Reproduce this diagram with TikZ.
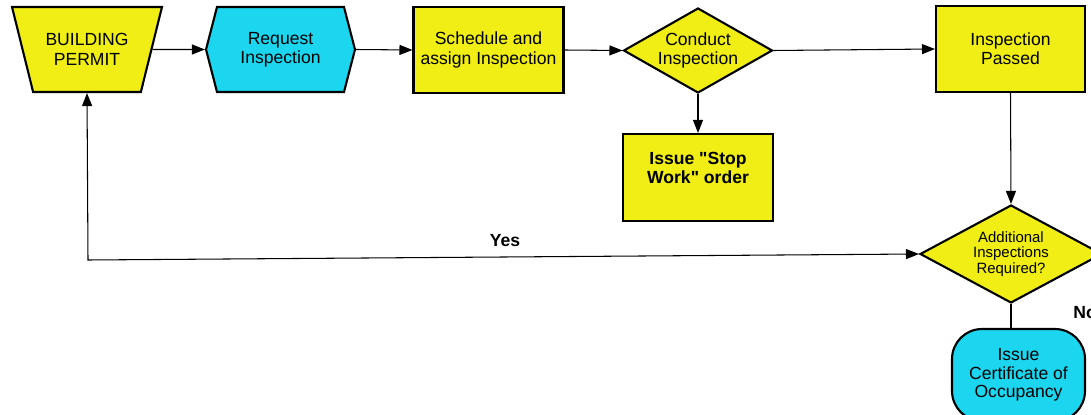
\documentclass[tikz,border=0pt]{standalone}
\usepackage{fontspec}
\setmainfont{Liberation Sans}
\usetikzlibrary{arrows.meta,shapes.geometric,shapes.symbols}

\definecolor{flowyellow}{RGB}{240,238,20}
\definecolor{flowcyan}{RGB}{28,214,240}

\tikzset{
    flowbox/.style={draw, line width=1.2pt, fill=flowyellow, align=center, font=\fontsize{10}{11}\selectfont},
    stepbox/.style={flowbox, rectangle, minimum width=3cm, minimum height=1.72cm},
    decision/.style={flowbox, diamond, inner sep=0pt},
    flowline/.style={line width=0.6pt, -{Triangle[length=0.26cm, width=0.2cm]}},
    plainline/.style={line width=0.6pt}
}

\begin{document}
\begin{tikzpicture}[x=0.02cm, y=-0.02cm]
    \path[use as bounding box, clip] (0,0) rectangle (1091,415);

    \node[flowbox, trapezium, trapezium angle=64, shape border rotate=180, trapezium stretches body=true, minimum width=3cm, minimum height=1.7cm] (permit) at (87,49.5) {BUILDING\\PERMIT};
    \node[flowbox, fill=flowcyan, signal, signal to=west and east, signal pointer angle=151, minimum width=2.98cm, minimum height=1.7cm] (request) at (280.5,49.5) {Request\\Inspection};
    \node[stepbox] (schedule) at (488.5,50) {Schedule and\\assign Inspection};
    \node[decision, aspect=1.75, minimum width=2.98cm, minimum height=1.7cm] (conduct) at (698,50.5) {Conduct\\Inspection};
    \node[stepbox, minimum width=2.98cm] (passed) at (1010.5,49) {Inspection\\Passed};
    \node[stepbox, minimum height=1.74cm, font=\fontsize{10}{11}\selectfont\bfseries] (stop) at (698,177.5) {Issue \textquotedbl Stop\\Work\textquotedbl\ order\\\mbox{}};
    \node[decision, aspect=1.86, minimum width=3.64cm, minimum height=1.96cm, font=\fontsize{8.5}{9}\selectfont] (addl) at (1011,254) {Additional\\Inspections\\Required?};
    \node[flowbox, fill=flowcyan, rectangle, rounded corners=0.6cm, minimum width=2.66cm, minimum height=1.84cm, font=\fontsize{10}{10.5}\selectfont] (cert) at (1018.5,375) {Issue\\Certificate of\\Occupancy};

    \coordinate (yescorner) at (88,260);

    \draw[flowline] (permit.east) to (request.west);
    \draw[flowline] (request.east) to (schedule.west);
    \draw[flowline] (schedule.east) to (conduct.west);
    \draw[flowline] (conduct.east) to (passed.west);
    \draw[flowline] (conduct.south) to (stop.north);
    \draw[flowline] (passed.south) to (addl.north);
    \draw[plainline] (addl.south) to (addl.south |- cert.north);
    \draw[flowline, {Triangle[length=0.26cm, width=0.2cm]}-{Triangle[length=0.26cm, width=0.2cm]}] (permit.south) to (yescorner) to (addl.west);

    \node[font=\fontsize{10}{11}\selectfont\bfseries] (yes) at (505,241) {Yes};
    \node[font=\fontsize{10}{11}\selectfont\bfseries, anchor=west, inner sep=0pt] (no) at (1073,313) {No};
\end{tikzpicture}
\end{document}
